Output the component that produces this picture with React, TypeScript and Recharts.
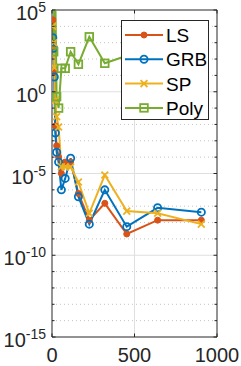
import React from 'react';
import { LineChart, Line, XAxis, YAxis, Legend, ReferenceLine } from 'recharts';

// problem size N (shared by LS, GRB, SP)
const nValues = [5, 10, 14, 20, 28, 40, 57, 80, 113, 160, 226, 320, 453, 640, 905];
const lsErrors = [2.5e4, 6e2, 1.6e1, 8e-3, 5e-4, 1e-4, 1e-5, 5e-5, 5e-5, 6e-7, 1.4e-8, 1.5e-7, 2e-9, 1.4e-8, 1.4e-8];
const grbErrors = [2e3, 4.5e2, 8, 3e-3, 2e-4, 5e-5, 1e-6, 5e-6, 8.5e-5, 3.8e-7, 8e-9, 1e-6, 5.6e-9, 8e-8, 4.3e-8];
const spErrors = [1e4, 1e3, 3e1, 3e-1, 3e-2, 7e-3, 2.6e-5, 2.5e-5, 2.5e-5, 3e-6, 3.7e-8, 8e-6, 5e-8, 3.7e-8, 8e-9];
const polyN = [10, 14, 20, 28, 40, 57, 80, 113, 160, 226, 320, 453, 640, 905];
const polyErrors = [2.8e2, 1e6, 1e6, 5e-1, 1e-1, 2.7e1, 2.7e1, 2.8e2, 4.8e1, 2.3e3, 5.5e1, 1.6e2, 2.5e2, 4e2];

const xTicks = [0, 500, 1000];
const yTicks = [
  1e-15, 1e-14, 1e-13, 1e-12, 1e-11, 1e-10, 1e-9, 1e-8, 1e-7, 1e-6, 1e-5,
  1e-4, 1e-3, 1e-2, 1e-1, 1, 1e1, 1e2, 1e3, 1e4, 1e5,
];
const yMajor = [1e-15, 1e-10, 1e-5, 1, 1e5];
const yMinor = yTicks.filter((v) => !yMajor.includes(v));

const FONT = '"Liberation Sans", Arial, Helvetica, sans-serif';
const AXIS = '#262626';
const PLOT = { left: 52, right: 217, top: 10, bottom: 337 };

const toPoints = (xs: number[], ys: number[]) => xs.map((x, i) => ({ x, y: ys[i] }));

const SERIES = [
  { name: 'LS', color: '#D95319', kind: 'dot', data: toPoints(nValues, lsErrors) },
  { name: 'GRB', color: '#0072BD', kind: 'circle', data: toPoints(nValues, grbErrors) },
  { name: 'SP', color: '#EDB120', kind: 'cross', data: toPoints(nValues, spErrors) },
  { name: 'Poly', color: '#77AC30', kind: 'square', data: toPoints(polyN, polyErrors) },
];

const marker = (kind: string, color: string, cx: number, cy: number, key?: string) => {
  if (cx == null || cy == null || isNaN(cx) || isNaN(cy)) return <g key={key} />;
  if (kind === 'dot') return <circle key={key} cx={cx} cy={cy} r={3} fill={color} stroke={color} strokeWidth={1} />;
  if (kind === 'circle') return <circle key={key} cx={cx} cy={cy} r={3.6} fill="none" stroke={color} strokeWidth={1.8} />;
  if (kind === 'cross') {
    const d = 3.4;
    return (
      <path
        key={key}
        d={`M${cx - d},${cy - d}L${cx + d},${cy + d}M${cx - d},${cy + d}L${cx + d},${cy - d}`}
        stroke={color}
        strokeWidth={1.8}
        fill="none"
      />
    );
  }
  return <rect key={key} x={cx - 3.8} y={cy - 3.8} width={7.6} height={7.6} fill="none" stroke={color} strokeWidth={1.8} />;
};

const YTick = ({ y, payload }: any) => {
  const v = payload.value;
  const exp = Math.round(Math.log10(v));
  const major = exp % 5 === 0;
  return (
    <g>
      <line x1={PLOT.left} x2={PLOT.left + (major ? 3.5 : 2.5)} y1={y} y2={y} stroke={AXIS} />
      <line x1={PLOT.right} x2={PLOT.right - (major ? 3.5 : 2.5)} y1={y} y2={y} stroke={AXIS} />
      {major && (
        <text x={PLOT.left - 6} y={y + 10} textAnchor="end" fontSize={20} fill="#262626" fontFamily={FONT}>
          10
          <tspan dy={-8} fontSize={14}>
            {String(exp)}
          </tspan>
        </text>
      )}
    </g>
  );
};

const XTick = ({ x, payload }: any) => (
  <g>
    <line x1={x} x2={x} y1={PLOT.bottom} y2={PLOT.bottom - 3.5} stroke={AXIS} />
    <line x1={x} x2={x} y1={PLOT.top} y2={PLOT.top + 3.5} stroke={AXIS} />
    <text x={x} y={362} textAnchor="middle" fontSize={20} fill="#262626" fontFamily={FONT}>
      {payload.value}
    </text>
  </g>
);

const LegendBox = () => (
  <div style={{ width: 88, height: 100, border: `1px solid ${AXIS}`, background: '#fff', boxSizing: 'border-box' }}>
    <svg width={86} height={98} style={{ display: 'block' }}>
      {SERIES.map((s, i) => {
        const cy = 14 + i * 24.3;
        return (
          <g key={s.name}>
            <line x1={3} x2={41} y1={cy} y2={cy} stroke={s.color} strokeWidth={2} />
            {marker(s.kind, s.color, 22, cy)}
            <text x={44} y={cy + 7} fontSize={19} fill="#000" fontFamily={FONT}>
              {s.name}
            </text>
          </g>
        );
      })}
    </svg>
  </div>
);

export default function App() {
  return (
    <div style={{ position: 'absolute', left: 0, top: 0, background: '#fff' }}>
      <LineChart width={241} height={366} margin={{ top: 10, right: 24, bottom: 0, left: 8 }}>
        <XAxis
          type="number"
          dataKey="x"
          domain={[0, 1000]}
          ticks={xTicks}
          interval={0}
          allowDataOverflow
          height={29}
          axisLine={{ stroke: AXIS }}
          tickLine={false}
          tick={<XTick />}
        />
        <YAxis
          type="number"
          scale="log"
          domain={[1e-15, 1e5]}
          ticks={yTicks}
          interval={0}
          allowDataOverflow
          width={44}
          axisLine={{ stroke: AXIS }}
          tickLine={false}
          tick={<YTick />}
        />
        {/* minor grid, dotted, one per decade */}
        {yMinor.map((v) => (
          <ReferenceLine key={`minor-${v}`} y={v} stroke="#c4c4c4" strokeDasharray="1 3" />
        ))}
        {/* major grid */}
        {yMajor.slice(1, -1).map((v) => (
          <ReferenceLine key={`major-${v}`} y={v} stroke="#dfdfdf" />
        ))}
        <ReferenceLine x={500} stroke="#dfdfdf" />
        <ReferenceLine y={1e5} stroke={AXIS} />
        <ReferenceLine x={1000} stroke={AXIS} />
        {SERIES.map((s) => (
          <Line
            key={s.name}
            name={s.name}
            data={s.data}
            dataKey="y"
            stroke={s.color}
            strokeWidth={2}
            isAnimationActive={false}
            dot={(p: any) => marker(s.kind, s.color, p.cx, p.cy, `${s.name}-${p.index}`)}
          />
        ))}
        <Legend
          layout="horizontal"
          verticalAlign="middle"
          align="center"
          wrapperStyle={{ left: 121, top: 20, width: 88, height: 100 }}
          content={<LegendBox />}
        />
      </LineChart>
    </div>
  );
}
